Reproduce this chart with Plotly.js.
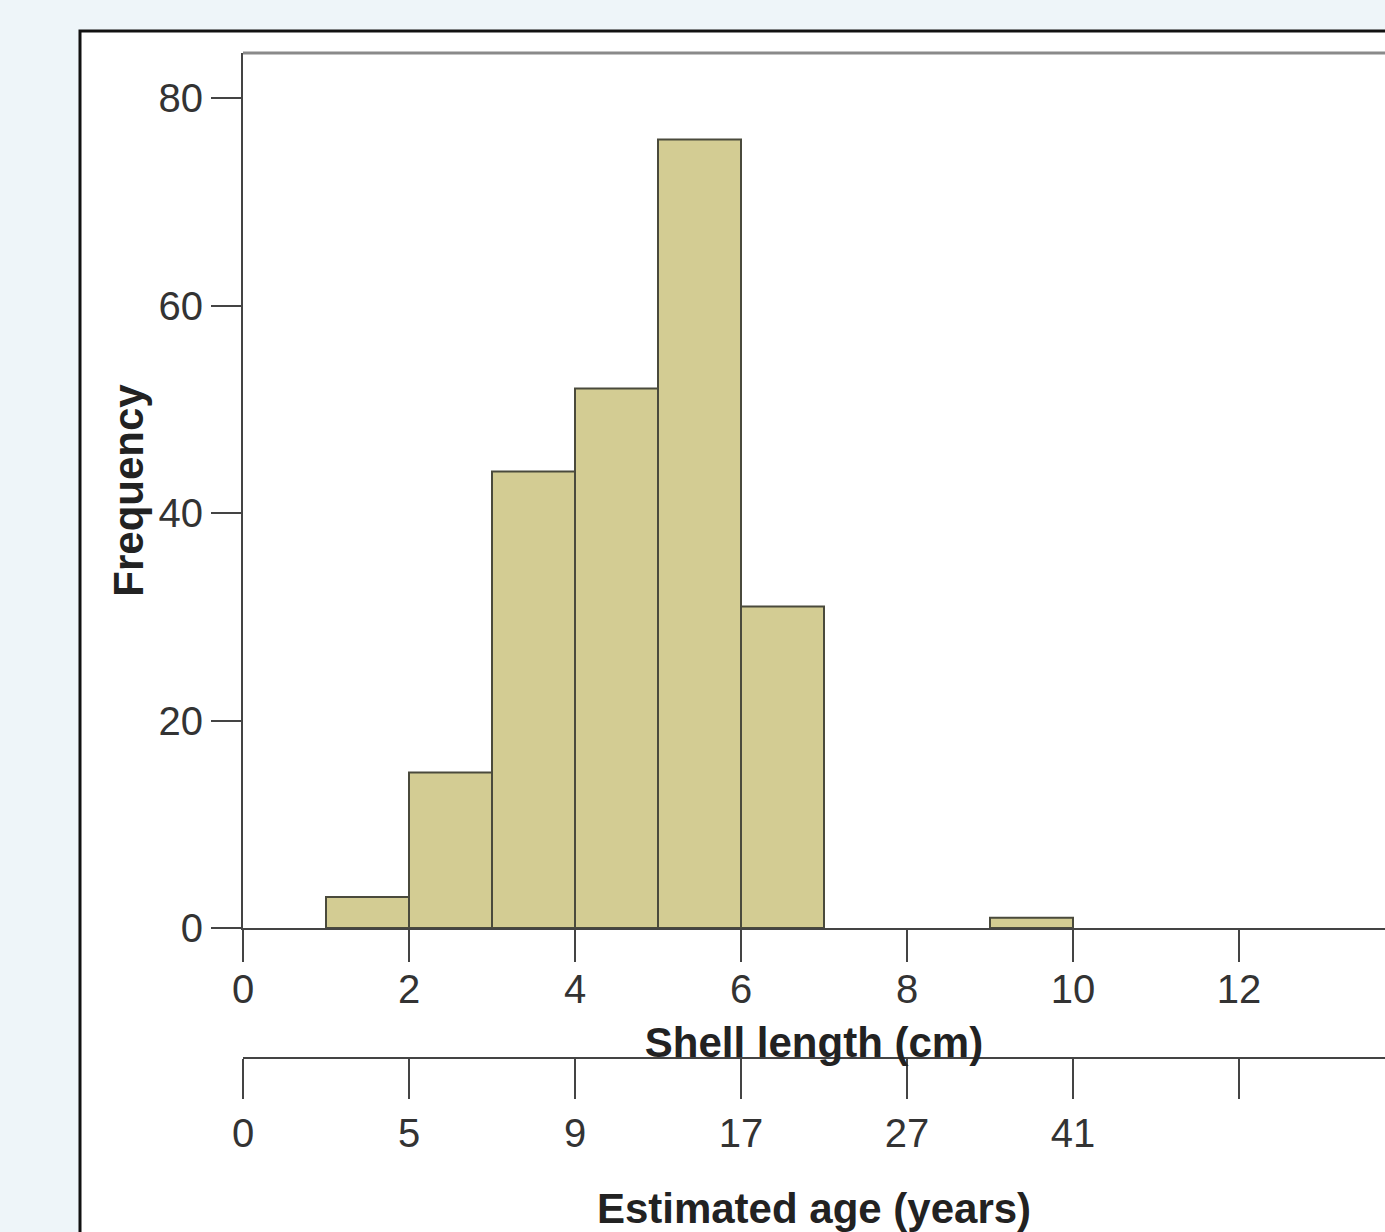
<!DOCTYPE html>
<html>
<head>
<meta charset="utf-8">
<script src="https://cdn.plot.ly/plotly-3.0.1.min.js"></script>
<style>html,body{margin:0;padding:0;background:#eef5f9;}#chart{width:1385px;height:1232px;}</style>
</head>
<body>
<div id="chart"></div>
<script>
// Data
const binStart = [1, 2, 3, 4, 5, 6, 9];          // shell length bin left edges (cm)
const counts   = [3, 15, 44, 52, 76, 31, 1];      // frequency
const lengthTicks = [0, 2, 4, 6, 8, 10, 12, 14];
const ageTickPos = [0, 2, 4, 6, 8, 10, 12];       // shell length positions (cm)
const ageLabels  = ['0', '5', '9', '17', '27', '41', ''];

const W = 1385, H = 1232;
const px = v => v / W;
const py = v => 1 - v / H;

const font = 'Liberation Sans, Arial, sans-serif';
const axisCol = '#444444';

const traces = [
  {
    type: 'bar',
    x: binStart,
    y: counts,
    width: 1,
    offset: 0,
    marker: {color: '#d3cc93', line: {color: '#4a4a3c', width: 2}},
    hoverinfo: 'x+y',
    xaxis: 'x', yaxis: 'y'
  },
  {
    type: 'scatter',
    mode: 'markers',
    x: ageTickPos,
    y: ageTickPos.map(() => 0),
    marker: {opacity: 0, size: 1},
    hoverinfo: 'skip',
    showlegend: false,
    xaxis: 'x2', yaxis: 'y'
  }
];

const xMax = (W - 243) / 83;
const yMax = (928 - 53) / 10.375;

const layout = {
  width: W, height: H,
  margin: {l: 0, r: 0, t: 0, b: 0},
  paper_bgcolor: '#eef5f9',
  plot_bgcolor: 'rgba(0,0,0,0)',
  showlegend: false,
  bargap: 0,
  font: {family: font, color: '#333333', size: 40},
  xaxis: {
    domain: [px(243), 1],
    range: [0, xMax],
    tickvals: lengthTicks,
    ticks: 'outside', ticklen: 32, tickwidth: 2, tickcolor: axisCol,
    ticklabelstandoff: -7,
    showline: true, linecolor: axisCol, linewidth: 2,
    showgrid: false, zeroline: false,
    tickfont: {size: 40, color: '#333'},
    title: {text: '<b>Shell length (cm)</b>', font: {size: 42, color: '#222'}, standoff: 18},
    anchor: 'y'
  },
  xaxis2: {
    overlaying: 'x',
    anchor: 'free',
    position: py(1058),
    side: 'bottom',
    range: [0, xMax],
    tickvals: ageTickPos,
    ticktext: ageLabels,
    ticks: 'outside', ticklen: 40, tickwidth: 2, tickcolor: axisCol,
    showline: true, linecolor: axisCol, linewidth: 2,
    showgrid: false, zeroline: false,
    tickfont: {size: 40, color: '#333'},
    title: {text: '<b>Estimated age (years)</b>', font: {size: 42, color: '#222'}, standoff: 64}
  },
  yaxis: {
    domain: [py(928), py(53)],
    range: [0, yMax],
    tickvals: [0, 20, 40, 60, 80],
    ticks: 'outside', ticklen: 30, tickwidth: 2, tickcolor: axisCol,
    showline: true, linecolor: axisCol, linewidth: 2,
    showgrid: false, zeroline: false,
    tickfont: {size: 40, color: '#333'},
    title: {text: '<b>Frequency</b>', font: {size: 42, color: '#222'}, standoff: 2},
    anchor: 'x'
  },
  shapes: [
    {type: 'rect', xref: 'paper', yref: 'paper', layer: 'below',
     x0: px(80), x1: 1.2, y0: -0.2, y1: py(31),
     fillcolor: '#ffffff', line: {color: '#111111', width: 3}},
    {type: 'line', xref: 'paper', yref: 'paper',
     x0: px(243), x1: 1, y0: py(53), y1: py(53),
     line: {color: '#8a8a8a', width: 3}}
  ]
};

Plotly.newPlot('chart', traces, layout, {staticPlot: true, displayModeBar: false});
</script>
</body>
</html>
